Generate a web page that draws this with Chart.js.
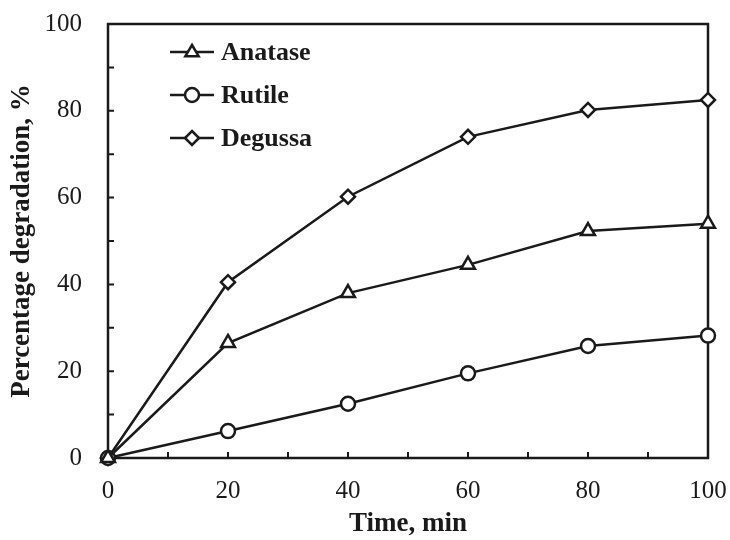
<!DOCTYPE html>
<html>
<head>
<meta charset="utf-8">
<script src="https://cdn.jsdelivr.net/npm/chart.js@4"></script>
<style>
  body { margin: 0; background: #fff; }
  #wrap { width: 730px; height: 540px; }
</style>
</head>
<body>
<div id="wrap"><canvas id="myChart" width="730" height="540"></canvas></div>
<script>
const times = [0, 20, 40, 60, 80, 100];
const anatase = [0, 26.5, 38, 44.5, 52.3, 54];
const rutile = [0, 6.2, 12.5, 19.5, 25.8, 28.2];
const degussa = [0, 40.5, 60.2, 74, 80.2, 82.5];
const seriesNames = ["Anatase", "Rutile", "Degussa"];

const ink = "#1a1a1a";
const serif = "'Liberation Serif', 'Times New Roman', serif";

function toPoints(vals) {
  return vals.map((v, i) => ({ x: times[i], y: v }));
}

function marker(ctx, style, x, y, r) {
  ctx.beginPath();
  if (style === "triangle") {
    ctx.moveTo(x, y - r);
    ctx.lineTo(x + r * 0.95, y + r * 0.6);
    ctx.lineTo(x - r * 0.95, y + r * 0.6);
    ctx.closePath();
  } else if (style === "circle") {
    ctx.arc(x, y, r, 0, Math.PI * 2);
  } else {
    ctx.moveTo(x, y - r);
    ctx.lineTo(x + r, y);
    ctx.lineTo(x, y + r);
    ctx.lineTo(x - r, y);
    ctx.closePath();
  }
  ctx.fillStyle = "#fff";
  ctx.fill();
  ctx.stroke();
}

// frame box and inward ticks
const framePlugin = {
  id: "frame",
  beforeDatasetsDraw(chart) {
    const { ctx, chartArea: a, scales } = chart;
    ctx.save();
    ctx.strokeStyle = ink;
    ctx.lineWidth = 2.5;
    ctx.strokeRect(a.left, a.top, a.right - a.left, a.bottom - a.top);
    ctx.lineWidth = 2;
    ctx.beginPath();
    scales.x.ticks.forEach((t) => {
      const px = scales.x.getPixelForValue(t.value);
      ctx.moveTo(px, a.bottom);
      ctx.lineTo(px, a.bottom - 6);
    });
    scales.y.ticks.forEach((t) => {
      const py = scales.y.getPixelForValue(t.value);
      ctx.moveTo(a.left, py);
      ctx.lineTo(a.left + 6, py);
    });
    ctx.stroke();
    ctx.restore();
  },
};

// legend drawn as line-marker-line like the original
const legendPlugin = {
  id: "lineLegend",
  afterDraw(chart) {
    const ctx = chart.ctx;
    ctx.save();
    ctx.strokeStyle = ink;
    ctx.lineWidth = 2.5;
    ctx.font = "bold 26px " + serif;
    ctx.textBaseline = "middle";
    chart.data.datasets.forEach((ds, i) => {
      const y = 52 + i * 43;
      ctx.beginPath();
      ctx.moveTo(170, y);
      ctx.lineTo(214, y);
      ctx.stroke();
      marker(ctx, ds.pointStyle, 192, y, 7);
      ctx.fillStyle = ink;
      ctx.fillText(ds.label, 221, y + 1);
    });
    ctx.restore();
  },
};

function makeSet(label, vals, style, r) {
  return {
    label: label,
    data: toPoints(vals),
    borderColor: ink,
    borderWidth: 2.5,
    pointStyle: style,
    pointRadius: r,
    pointBorderWidth: 2.5,
    pointBackgroundColor: "#fff",
    pointBorderColor: ink,
    tension: 0,
    clip: false,
  };
}

const config = {
  type: "line",
  data: {
    datasets: [
      makeSet(seriesNames[0], anatase, "triangle", 8),
      makeSet(seriesNames[1], rutile, "circle", 7),
      makeSet(seriesNames[2], degussa, "rectRot", 7),
    ],
  },
  options: {
    responsive: false,
    animation: false,
    layout: { padding: { left: 0, right: 22, top: 24, bottom: 0 } },
    plugins: { legend: { display: false }, tooltip: { enabled: false } },
    scales: {
      x: {
        type: "linear",
        min: 0,
        max: 100,
        afterFit(scale) {
          scale.height = 82;
          scale.paddingLeft = 0;
          scale.paddingRight = 0;
        },
        ticks: {
          stepSize: 10,
          padding: 18,
          color: ink,
          font: { family: serif, size: 25 },
          maxRotation: 0,
          callback: (v) => (v % 20 === 0 ? v : ""),
        },
        grid: { drawOnChartArea: false, drawTicks: false },
        border: { display: false },
        title: {
          display: true,
          text: "Time, min",
          color: ink,
          font: { family: serif, size: 27, weight: "bold" },
          padding: { top: 0, bottom: 0 },
        },
      },
      y: {
        min: 0,
        max: 100,
        afterFit(scale) {
          scale.width = 108;
          scale.paddingTop = 0;
          scale.paddingBottom = 0;
        },
        ticks: {
          stepSize: 5,
          padding: 26,
          color: ink,
          font: { family: serif, size: 25 },
          callback: (v) => (v % 20 === 0 ? v : ""),
        },
        grid: { drawOnChartArea: false, drawTicks: false },
        border: { display: false },
        title: {
          display: true,
          text: "Percentage degradation, %",
          color: ink,
          font: { family: serif, size: 27, weight: "bold" },
          padding: { top: 6, bottom: 0 },
        },
      },
    },
  },
  plugins: [framePlugin, legendPlugin],
};

var myChart = new Chart(document.getElementById("myChart"), config);
</script>
</body>
</html>
